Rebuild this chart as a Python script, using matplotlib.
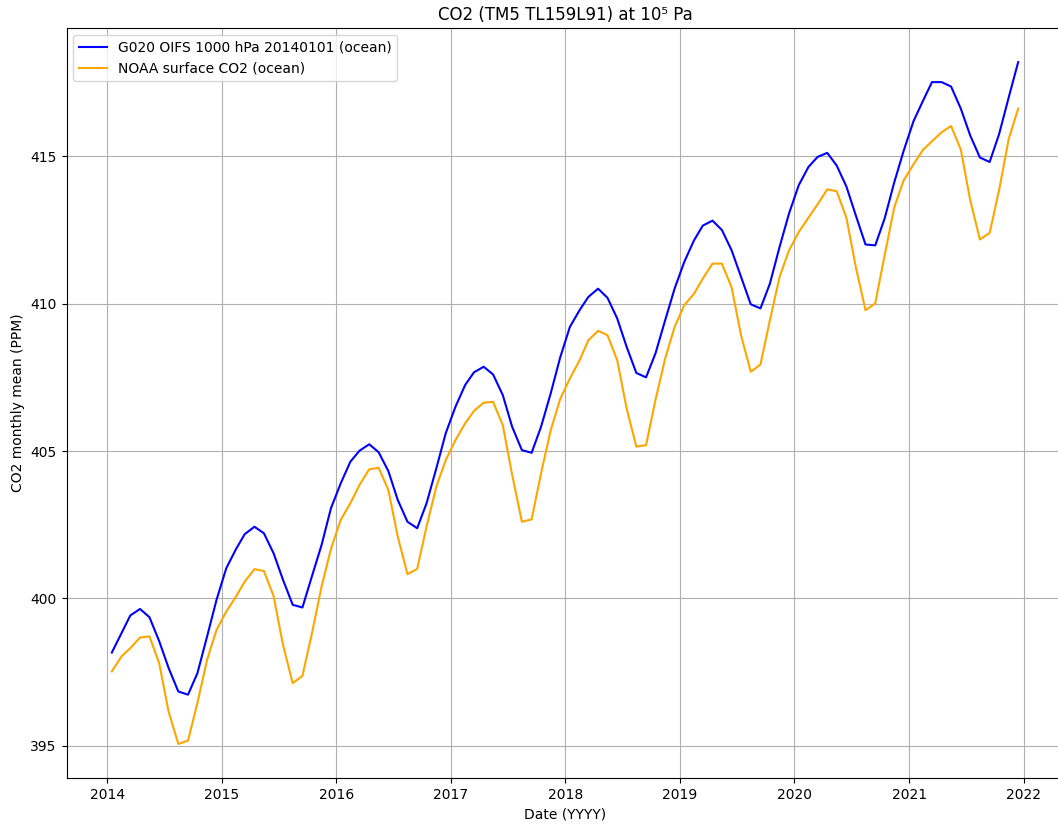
import matplotlib

matplotlib.use("Agg")

import matplotlib.dates as mdates
import matplotlib.pyplot as plt
import pandas as pd


# monthly means, Jan 2014 .. Dec 2021
MODEL_CO2 = [
    398.16, 398.82, 399.42, 399.64, 399.36, 398.55, 397.64, 396.84, 396.73, 397.46, 398.71, 399.95,
    401.02, 401.67, 402.18, 402.43, 402.21, 401.53, 400.63, 399.78, 399.69, 400.74, 401.81, 403.06,
    403.90, 404.64, 405.01, 405.23, 404.96, 404.32, 403.34, 402.60, 402.38, 403.23, 404.41, 405.60,
    406.50, 407.24, 407.67, 407.86, 407.60, 406.90, 405.82, 405.03, 404.94, 405.82, 406.96, 408.17,
    409.21, 409.78, 410.23, 410.51, 410.20, 409.50, 408.54, 407.65, 407.50, 408.31, 409.44, 410.51,
    411.42, 412.15, 412.65, 412.82, 412.50, 411.81, 410.91, 409.98, 409.84, 410.68, 411.93, 413.06,
    414.02, 414.64, 414.98, 415.12, 414.69, 413.98, 413.00, 412.01, 411.98, 412.89, 414.13, 415.20,
    416.19, 416.90, 417.52, 417.52, 417.37, 416.62, 415.71, 414.96, 414.81, 415.75, 417.01, 418.20,
]
NOAA_CO2 = [
    397.52, 398.03, 398.31, 398.67, 398.71, 397.80, 396.16, 395.06, 395.17, 396.45, 397.92, 398.93,
    399.55, 400.06, 400.57, 400.99, 400.93, 400.08, 398.42, 397.12, 397.37, 398.80, 400.40, 401.68,
    402.66, 403.23, 403.85, 404.38, 404.43, 403.68, 402.10, 400.82, 401.00, 402.44, 403.79, 404.69,
    405.37, 405.94, 406.36, 406.64, 406.67, 405.88, 404.19, 402.60, 402.68, 404.24, 405.71, 406.76,
    407.46, 408.08, 408.76, 409.08, 408.93, 408.08, 406.45, 405.15, 405.20, 406.73, 408.14, 409.21,
    409.95, 410.34, 410.85, 411.36, 411.36, 410.55, 408.93, 407.69, 407.94, 409.44, 410.91, 411.81,
    412.43, 412.92, 413.37, 413.88, 413.82, 412.92, 411.25, 409.78, 410.01, 411.64, 413.28, 414.19,
    414.73, 415.23, 415.51, 415.82, 416.03, 415.23, 413.51, 412.18, 412.40, 413.85, 415.60, 416.62,
]
MODEL_LABEL = "G020 OIFS 1000 hPa 20140101 (ocean)"
NOAA_LABEL = "NOAA surface CO2 (ocean)"


def main() -> None:
    dates = pd.date_range("2014-01-01", periods=len(MODEL_CO2), freq="MS") + pd.Timedelta(days=14)

    fig = plt.figure(figsize=(10.58, 8.27), dpi=100)
    # right spine falls just outside the frame, as in the reference
    ax = fig.add_axes([66.5 / 1058, 49 / 827, 997 / 1058, 750 / 827])
    ax.plot(dates, MODEL_CO2, color="blue", linewidth=1.5, label=MODEL_LABEL)
    ax.plot(dates, NOAA_CO2, color="orange", linewidth=1.5, label=NOAA_LABEL)

    ax.xaxis.set_major_locator(mdates.YearLocator())
    ax.xaxis.set_major_formatter(mdates.DateFormatter("%Y"))
    ax.set_title("CO2 (TM5 TL159L91) at 10\u2075 Pa")
    ax.set_xlabel("Date (YYYY)")
    ax.set_ylabel("CO2 monthly mean (PPM)")
    ax.grid(True)
    ax.legend(loc="upper left")
    fig.savefig("out.png", dpi=100)
    plt.close(fig)


if __name__ == "__main__":
    main()
